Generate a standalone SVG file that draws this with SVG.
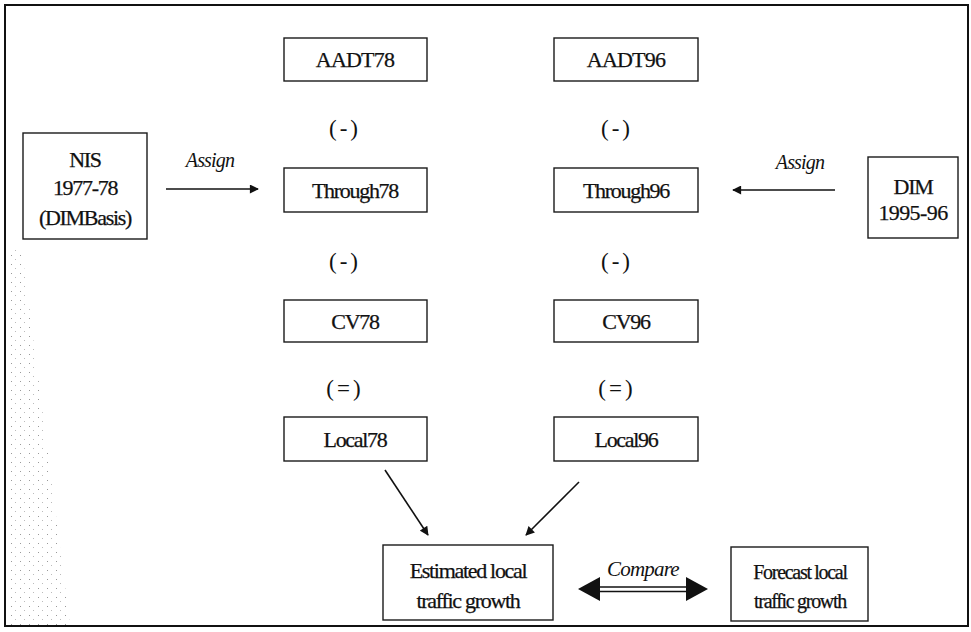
<svg xmlns="http://www.w3.org/2000/svg" width="971" height="632" viewBox="0 0 971 632">
  <defs>
    <style>
      .box { fill: #ffffff; stroke: #1a1a1a; stroke-width: 1.4; }
      .t { font-family: "Liberation Serif", "Times New Roman", serif; font-size: 22px; fill: #111; stroke: #111; stroke-width: 0.25; text-anchor: middle; letter-spacing: -1.3px; }
      .op { font-family: "Liberation Serif", "Times New Roman", serif; font-size: 23px; fill: #111; text-anchor: middle; letter-spacing: 3px; }
      .lbl { font-family: "Liberation Serif", "Times New Roman", serif; font-size: 20px; font-style: italic; fill: #111; text-anchor: middle; letter-spacing: -0.8px; }
      .conn { stroke: #111; stroke-width: 1.6; fill: none; }
    </style>
    <marker id="ah" viewBox="0 0 10 10" refX="9" refY="5" markerWidth="11" markerHeight="9" markerUnits="userSpaceOnUse" orient="auto">
      <path d="M0,0 L10,5 L0,10 z" fill="#111"/>
    </marker>
    <pattern id="dots" width="9" height="9" patternUnits="userSpaceOnUse">
      <rect x="2" y="3" width="1" height="1" fill="#999"/>
      <rect x="6" y="7" width="1" height="1" fill="#bbb"/>
    </pattern>
  </defs>

  <rect x="0" y="0" width="971" height="632" fill="#ffffff"/>
  <polygon points="7,250 22,250 70,625 7,625" fill="url(#dots)"/>
  <rect id="frame" x="5" y="5" width="963" height="621" fill="none" stroke="#111" stroke-width="2"/>

  <g id="aadt78"><rect class="box" x="284" y="38" width="143" height="43"/><text class="t" x="355" y="67" style="letter-spacing:-0.8px">AADT78</text></g>
  <g id="aadt96"><rect class="box" x="554" y="38" width="144" height="43"/><text class="t" x="626" y="67" style="letter-spacing:-0.8px">AADT96</text></g>

  <text class="op" x="345" y="136">(-)</text>
  <text class="op" x="617" y="136">(-)</text>

  <g id="nis"><rect class="box" x="23" y="133" width="124" height="106"/>
    <text class="t" x="85" y="167">NIS</text>
    <text class="t" x="85" y="195">1977-78</text>
    <text class="t" x="85" y="225">(DIMBasis)</text>
  </g>

  <g id="through78"><rect class="box" x="284" y="168" width="143" height="44"/><text class="t" x="355" y="198">Through78</text></g>
  <g id="through96"><rect class="box" x="554" y="168" width="144" height="44"/><text class="t" x="626" y="198">Through96</text></g>

  <g id="dim"><rect class="box" x="868" y="157" width="90" height="81"/>
    <text class="t" x="913" y="194">DIM</text>
    <text class="t" x="913" y="220" style="letter-spacing:-0.6px">1995-96</text>
  </g>

  <text class="op" x="345" y="269">(-)</text>
  <text class="op" x="617" y="269">(-)</text>

  <g id="cv78"><rect class="box" x="284" y="300" width="143" height="42"/><text class="t" x="355" y="329">CV78</text></g>
  <g id="cv96"><rect class="box" x="554" y="300" width="144" height="42"/><text class="t" x="626" y="329">CV96</text></g>

  <text class="op" x="345" y="396">(=)</text>
  <text class="op" x="617" y="396">(=)</text>

  <g id="local78"><rect class="box" x="284" y="417" width="143" height="44"/><text class="t" x="355" y="447">Local78</text></g>
  <g id="local96"><rect class="box" x="554" y="417" width="144" height="44"/><text class="t" x="626" y="447">Local96</text></g>

  <g id="estimated"><rect class="box" x="383" y="545" width="170" height="75"/>
    <text class="t" x="468" y="578">Estimated local</text>
    <text class="t" x="468" y="608">traffic growth</text>
  </g>
  <g id="forecast"><rect class="box" x="731" y="547" width="137" height="74"/>
    <text class="t" x="800" y="579" style="font-size:20px">Forecast local</text>
    <text class="t" x="800" y="608" style="font-size:20px">traffic growth</text>
  </g>

  <g id="connectors">
    <line class="conn" x1="166" y1="189" x2="258" y2="189" marker-end="url(#ah)"/>
    <text class="lbl" x="210" y="167">Assign</text>
    <line class="conn" x1="835" y1="190" x2="733" y2="190" marker-end="url(#ah)"/>
    <text class="lbl" x="800" y="169">Assign</text>
    <line class="conn" x1="385" y1="470" x2="428" y2="535" marker-end="url(#ah)"/>
    <line class="conn" x1="579" y1="482" x2="526" y2="535" marker-end="url(#ah)"/>
    <g id="compare">
      <line x1="596" y1="587" x2="690" y2="587" stroke="#111" stroke-width="1.4"/>
      <line x1="596" y1="591.5" x2="690" y2="591.5" stroke="#111" stroke-width="1.4"/>
      <polygon points="578,589 600,577 600,601" fill="#111"/>
      <polygon points="708,589 686,577 686,601" fill="#111"/>
      <text class="lbl" x="643" y="576" style="font-size:21px">Compare</text>
    </g>
  </g>
</svg>
